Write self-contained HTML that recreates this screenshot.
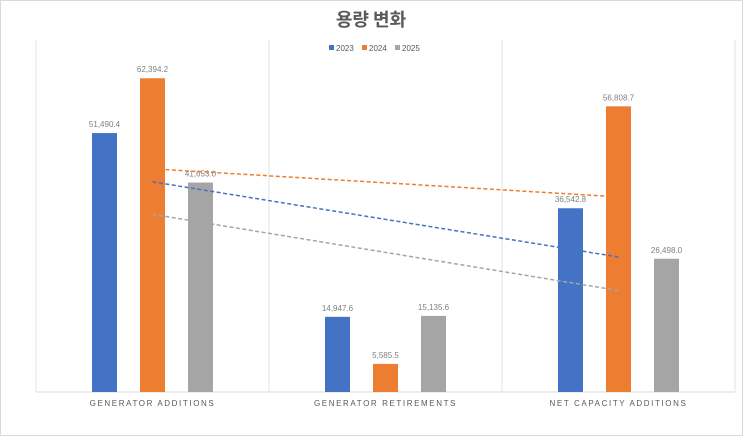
<!DOCTYPE html>
<html><head><meta charset="utf-8"><style>
body{margin:0;background:#fff}
svg{display:block;font-family:"Liberation Sans","Noto Sans CJK KR",sans-serif}
</style></head><body>
<svg id="c" width="743" height="436">
<rect x="0.5" y="0.5" width="742" height="435" fill="#fff" stroke="#d9d9d9"/>
<text x="371" y="26" text-anchor="middle" font-size="18" font-weight="bold" fill="#595959" font-family="'Noto Sans CJK KR',sans-serif">용량 변화</text>
<g id="legend"></g>
<g id="plot"></g>
</svg>
<script>
const categories=["GENERATOR ADDITIONS","GENERATOR RETIREMENTS","NET CAPACITY ADDITIONS"];
const seriesNames=["2023","2024","2025"];
const s2023=[51490.4,14947.6,36542.8];
const s2024=[62394.2,5585.5,56808.7];
const s2025=[41653.0,15135.6,26498.0];
const series=[s2023,s2024,s2025];
const colors=["#4472c4","#ed7d31","#a5a5a5"];
const NS="http://www.w3.org/2000/svg";
const L=36,R=735,T=40,B=392,yMax=70000;
const bw=(R-L)/categories.length;
const y=v=>B-(v/yMax)*(B-T);
const xc=i=>L+bw*(i+0.5);
const plot=document.getElementById('plot');
function mk(tag,a,parent){const e=document.createElementNS(NS,tag);for(const k in a)e.setAttribute(k,a[k]);(parent||plot).appendChild(e);return e;}
for(let i=0;i<=categories.length;i++){
 const g=mk('line',{x1:L+bw*i,x2:L+bw*i,y1:T,y2:B,stroke:'#e3e3e3'});
 
 
}
const ax=mk('line',{x1:L,x2:R,y1:B,y2:B,stroke:'#d9d9d9'});


categories.forEach((c,i)=>{
 const t=mk('text',{x:xc(i),y:B+14,'text-anchor':'middle','font-size':'8','letter-spacing':'1.6',fill:'#595959'});
 t.textContent=c;
 
 
});
series.forEach((s,k)=>{
 s.forEach((v,i)=>{
  const cx=xc(i)+(k-1)*48;
  const r=mk('rect',{x:cx-12.5,y:y(v),width:25,height:B-y(v),fill:colors[k]});
  
  
  const t=mk('text',{x:cx,y:y(v)-6,'text-anchor':'middle','font-size':'8',fill:'#7f7f7f'});
  t.textContent=v.toLocaleString('en-US',{minimumFractionDigits:1,maximumFractionDigits:1});
  
  
 });
});
series.forEach((s,k)=>{
 const n=s.length,mx=(n-1)/2,my=s.reduce((a,b)=>a+b)/n;
 let num=0,den=0;s.forEach((v,i)=>{num+=(i-mx)*(v-my);den+=(i-mx)*(i-mx);});
 const m=num/den,b0=my-m*mx;
 const ln=mk('line',{x1:xc(0),y1:y(b0),x2:xc(n-1),y2:y(b0+m*(n-1)),stroke:colors[k],'stroke-width':1.5,'stroke-dasharray':'4 2.5'});
 
 
});
const lg=document.getElementById('legend');
seriesNames.forEach((n,k)=>{
 const x0=329+k*33;
 const r=mk('rect',{x:x0,y:45,width:5,height:5,fill:colors[k]},lg);
 
 
 const t=mk('text',{x:x0+7,y:51,'font-size':'8',fill:'#595959'},lg);
 t.textContent=n;
 
 
});
</script>
</body></html>
